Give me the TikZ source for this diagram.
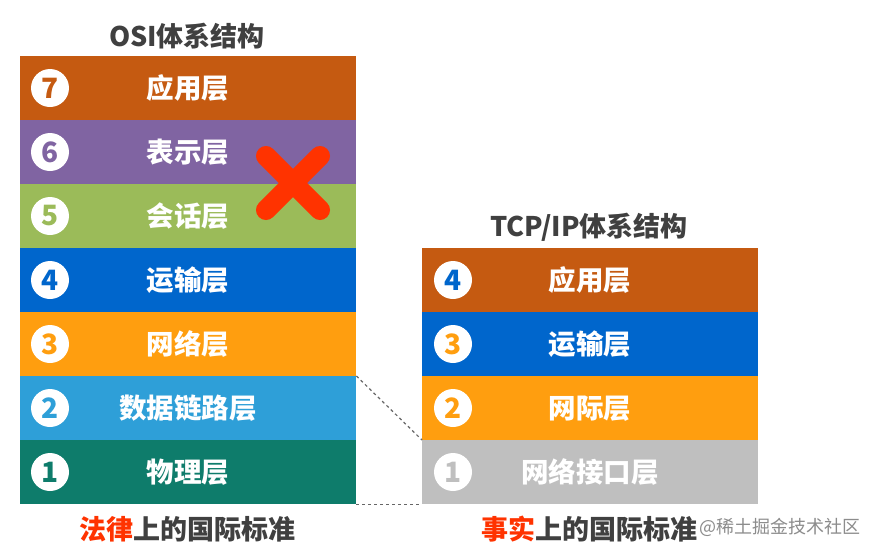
\documentclass[tikz,border=0pt]{standalone}
\usepackage{fontspec}
\setmainfont{Noto Sans CJK SC}
\definecolor{c7}{HTML}{C55A11}
\definecolor{c6}{HTML}{8064A2}
\definecolor{c5}{HTML}{9BBB59}
\definecolor{c4}{HTML}{0066CC}
\definecolor{c3}{HTML}{FF9E0F}
\definecolor{c2}{HTML}{2E9FD8}
\definecolor{c1}{HTML}{0E7C6B}
\definecolor{cg}{HTML}{BFBFBF}
\definecolor{txtdark}{HTML}{404040}
\definecolor{xred}{HTML}{FF3300}
\begin{document}
\begin{tikzpicture}[x=1pt,y=-1pt,
  layer/.style={fill=#1, minimum width=336pt, minimum height=64pt, inner sep=0pt,
    anchor=north west, text=white, font=\bfseries\fontsize{27.5}{32}\selectfont},
  num/.style={circle, fill=white, minimum size=38pt, inner sep=0pt, text=#1,
    font=\bfseries\fontsize{28}{32}\selectfont},
  title/.style={text=txtdark, font=\bfseries\fontsize{27}{32}\selectfont},
  foot/.style={text=txtdark, font=\bfseries\fontsize{27}{32}\selectfont},
  link/.style={draw=black!60, dashed, line width=1.2pt}
]
\useasboundingbox (0,0) rectangle (874,555);
\fill[white] (0,0) rectangle (874,555);
% OSI stack
\node[title] (osit) at (187,36) {OSI体系结构};
\node[layer=c7] (l7) at (20,56) {应用层};
\node[layer=c6] (l6) at (20,120) {表示层};
\node[layer=c5] (l5) at (20,184) {会话层};
\node[layer=c4] (l4) at (20,248) {运输层};
\node[layer=c3] (l3) at (20,312) {网络层};
\node[layer=c2] (l2) at (20,376) {数据链路层};
\node[layer=c1] (l1) at (20,440) {物理层};
\node[num=c7] (n7) at (50,88) {7};
\node[num=c6] (n6) at (50,152) {6};
\node[num=c5] (n5) at (50,216) {5};
\node[num=c4] (n4) at (50,280) {4};
\node[num=c3] (n3) at (50,344) {3};
\node[num=c2] (n2) at (50,408) {2};
\node[num=c1] (n1) at (50,472) {1};
% red cross
\coordinate (xa) at (266,156);
\coordinate (xb) at (320,210);
\coordinate (xc) at (320,156);
\coordinate (xd) at (266,210);
\draw[xred, line width=20pt, line cap=round] (xa) -- (xb) (xc) -- (xd);
% TCP/IP stack
\node[title] (tcpt) at (589,227) {TCP/IP体系结构};
\node[layer=c7] (r4) at (422,248) {应用层};
\node[layer=c4] (r3) at (422,312) {运输层};
\node[layer=c3] (r2) at (422,376) {网际层};
\node[layer=cg] (r1) at (422,440) {网络接口层};
\node[num=c4] (m4) at (453,280) {4};
\node[num=c3] (m3) at (453,344) {3};
\node[num=c3] (m2) at (453,408) {2};
\node[num=cg] (m1) at (453,472) {1};
% dashed connectors
\draw[link] (l2.north east) -- (r1.north west);
\draw[link] (l1.south east) -- (r1.south west);
% footers
\node[foot] (f1) at (187,529) {\textcolor{xred}{法律}上的国际标准};
\node[foot] (f2) at (589,529) {\textcolor{xred}{事实}上的国际标准};
\node[anchor=west, text=black!45, font=\fontsize{18}{22}\selectfont] (wm) at (696,527) {@稀土掘金技术社区};
\end{tikzpicture}
\end{document}
